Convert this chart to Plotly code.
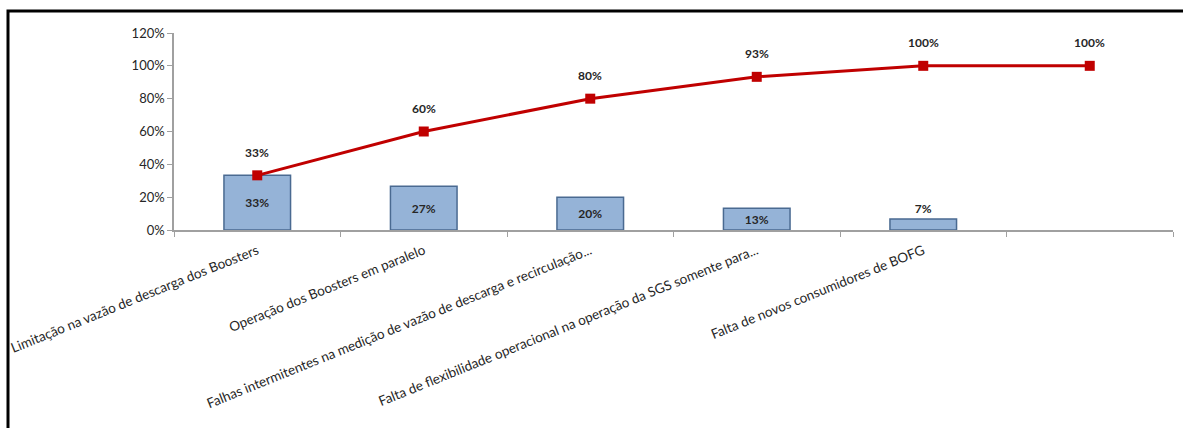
import plotly.graph_objects as go

categories = [
    "Limitação na vazão de descarga dos Boosters",
    "Operação dos Boosters em paralelo",
    "Falhas intermitentes na medição de vazão de descarga e recirculação...",
    "Falta de flexibilidade operacional na operação da SGS somente para...",
    "Falta de novos consumidores de BOFG",
    " ",
]
bar_values = [33.3, 26.7, 20.0, 13.3, 6.7, None]
bar_labels = ["33%", "27%", "20%", "13%", "7%", ""]
cum_values = [33.3, 60.0, 80.0, 93.3, 100.0, 100.0]
cum_labels = ["33%", "60%", "80%", "93%", "100%", "100%"]
y_ticks = [0, 20, 40, 60, 80, 100, 120]
y_tick_labels = ["0%", "20%", "40%", "60%", "80%", "100%", "120%"]

FONT = "Lato"

fig = go.Figure()
fig.add_trace(go.Bar(
    x=categories, y=bar_values, width=0.4,
    marker=dict(color="#95B3D7", line=dict(color="#4A6A91", width=1.5)),
    text=bar_labels,
    textposition=["inside", "inside", "inside", "inside", "outside", "none"],
    insidetextanchor="middle",
    constraintext="none",
    textfont=dict(family=FONT, size=12, color="#262626", weight="bold"),
    cliponaxis=False,
    showlegend=False,
))
fig.add_trace(go.Scatter(
    x=categories, y=cum_values, mode="lines+markers",
    line=dict(color="#C00000", width=3),
    marker=dict(symbol="square", size=10, color="#C00000"),
    cliponaxis=False,
    showlegend=False,
))

annotations = [
    dict(x=c, y=v, text=t, showarrow=False, yshift=23,
         font=dict(family=FONT, size=12, color="#262626", weight="bold"))
    for c, v, t in zip(categories, cum_values, cum_labels)
]

L, R, T, B = 174, 10, 33, 198
W, H = 1183, 428
pw, ph = W - L - R, H - T - B

fig.update_layout(
    width=W, height=H,
    margin=dict(l=L, r=R, t=T, b=B, autoexpand=False),
    paper_bgcolor="white", plot_bgcolor="white",
    font=dict(family=FONT, size=13, color="#262626"),
    bargap=0.6,
    annotations=annotations,
    xaxis=dict(
        type="category", tickangle=-22, tickson="boundaries",
        ticks="outside", ticklen=5, tickcolor="#A0A0A0",
        ticklabelstandoff=6, automargin=False,
        showline=True, linecolor="#A0A0A0", linewidth=1.5,
        showgrid=False, tickfont=dict(family=FONT, size=13.5, color="#262626"),
        range=[-0.5, 5.5],
    ),
    yaxis=dict(
        range=[0, 120], tickvals=y_ticks, ticktext=y_tick_labels,
        ticks="outside", ticklen=5, tickcolor="#A0A0A0", automargin=False,
        showline=True, linecolor="#A0A0A0", linewidth=1.5,
        showgrid=False, zeroline=False,
        tickfont=dict(family=FONT, size=13, color="#262626"),
    ),
    shapes=[dict(
        type="rect", xref="paper", yref="paper",
        x0=(8 - L) / pw, x1=(W + 20 - L) / pw,
        y0=(H - B - (H + 20)) / ph, y1=(H - B - 11) / ph,
        line=dict(color="black", width=3), fillcolor="rgba(0,0,0,0)",
    )],
)

fig.write_html("out.html")
